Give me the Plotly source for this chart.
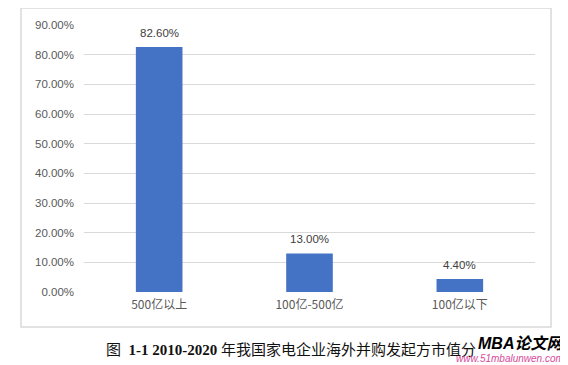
import plotly.graph_objects as go

categories = ["500亿以上", "100亿-500亿", "100亿以下"]
values = [0.826, 0.13, 0.044]
value_labels = ["82.60%", "13.00%", "4.40%"]
tick_vals = [0, 0.1, 0.2, 0.3, 0.4, 0.5, 0.6, 0.7, 0.8, 0.9]

# page body has an 8px margin: build the figure 8px smaller and shift coordinates
OFF = 8
W, H = 568 - OFF, 365 - OFF

fig = go.Figure()
fig.add_trace(go.Bar(
    x=categories, y=values, width=0.31,
    marker=dict(color="#4472C4", line=dict(width=0)),
))
for c, v, t in zip(categories, values, value_labels):
    fig.add_annotation(x=c, y=v, text=t, showarrow=False, yanchor="bottom", yshift=6,
                       font=dict(family="Liberation Sans, Noto Sans", size=11.5, color="#404040"))

L, R, T = 84 - OFF, 568 - 535, 25 - OFF
B = H - (292 - OFF)
fig.update_layout(
    width=W, height=H,
    margin=dict(l=L, r=R, t=T, b=B),
    paper_bgcolor="white", plot_bgcolor="white",
    showlegend=False,
    xaxis=dict(showgrid=False, showline=False, zeroline=False, ticks="",
               tickfont=dict(family="Noto Sans CJK SC", size=12, color="#595959"),
               ticklabelstandoff=4),
    yaxis=dict(range=[0, 0.9], tickvals=tick_vals, tickformat=".2%",
               showgrid=True, gridcolor="#d9d9d9", gridwidth=1,
               zeroline=False, showline=False, ticks="",
               tickfont=dict(family="Liberation Sans, Noto Sans", size=11.5, color="#595959"),
               ticklabelstandoff=9),
)

pw = W - L - R
ph = H - T - B
def px(x): return (x - OFF - L) / pw
def py(y): return (H - B - (y - OFF)) / ph

fig.add_shape(type="rect", xref="paper", yref="paper",
              x0=px(21), x1=px(551), y0=py(327), y1=py(8),
              line=dict(color="#d9d9d9", width=1.5), layer="below")

fig.add_annotation(xref="paper", yref="paper", x=px(104), y=py(349),
                   xanchor="left", yanchor="middle", showarrow=False,
                   text="图  <b>1-1 2010-2020</b> 年我国家电企业海外并购发起方市值分",
                   font=dict(family="Liberation Serif, Noto Sans CJK SC", size=15, color="#111111"))
fig.add_annotation(xref="paper", yref="paper", x=px(566), y=py(343),
                   xanchor="right", yanchor="middle", showarrow=False,
                   text="<b><i>MBA论文网</i></b>",
                   font=dict(family="Liberation Sans, Noto Sans CJK SC", size=16, color="#000000"))
fig.add_annotation(xref="paper", yref="paper", x=px(566), y=py(358),
                   xanchor="right", yanchor="middle", showarrow=False,
                   text="<i>www.51mbalunwen.com</i>",
                   font=dict(family="Liberation Sans", size=10, color="#d84a9c"))

fig.write_html("out.html")
